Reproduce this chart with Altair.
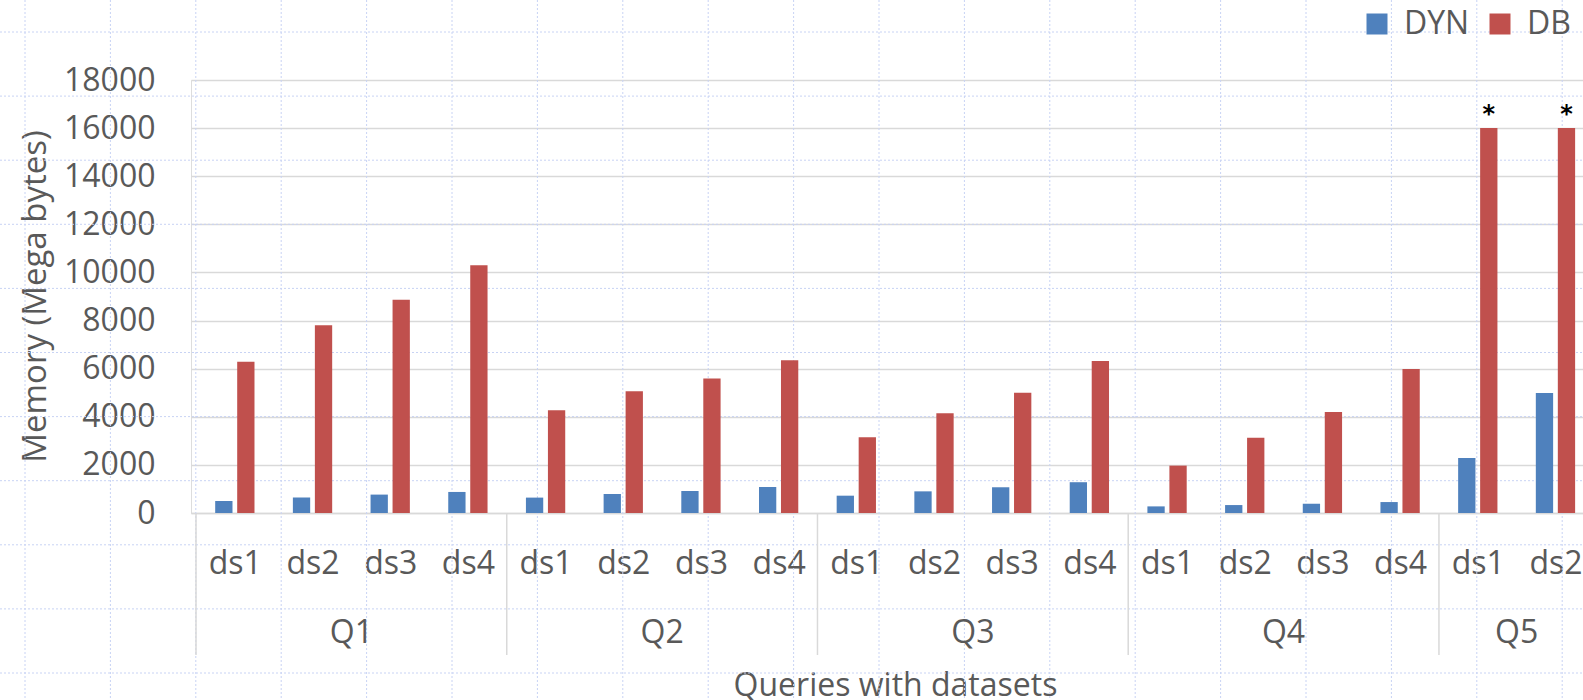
import altair as alt
import pandas as pd

# ---- data ----
queries = ["Q1"] * 4 + ["Q2"] * 4 + ["Q3"] * 4 + ["Q4"] * 4 + ["Q5"] * 2
datasets = ["ds1", "ds2", "ds3", "ds4"] * 4 + ["ds1", "ds2"]
dyn_mb = [500, 640, 765, 875, 640, 790, 915, 1080, 720, 900, 1070, 1280,
          275, 330, 385, 455, 2290, 4990]
db_mb = [6290, 7800, 8870, 10300, 4270, 5060, 5590, 6350, 3150, 4150, 5000, 6320,
         1970, 3130, 4200, 5990, 16000, 16000]
db_capped = [False] * 16 + [True, True]
series = ["DYN", "DB"]
colors = ["#4F81BD", "#C0504D"]
y_ticks = list(range(0, 18001, 2000))

# ---- tables ----
rows = []
for i, (q, d) in enumerate(zip(queries, datasets)):
    rows.append({"idx": i, "query": q, "ds": d, "series": "DYN", "value": dyn_mb[i], "capped": False})
    rows.append({"idx": i, "query": q, "ds": d, "series": "DB", "value": db_mb[i], "capped": db_capped[i]})
df = pd.DataFrame(rows)

cat = pd.DataFrame({"idx": range(len(queries)), "query": queries})
groups = cat.groupby("query", sort=False)["idx"].agg(["min", "max"]).reset_index()
groups["center"] = (groups["min"] + groups["max"]) / 2
groups["start"] = groups["min"] - 0.5

TXT = "#595959"
FONT = "Open Sans"
GRID = "#D9D9D9"
SHEET = "#C8D3F4"

W, H = 1392, 433
PAD_L, PAD_T, PAD_B = 191, 80, 187

# spreadsheet cell grid behind the chart (pixel spacing, style only)
sheet_v = pd.DataFrame({"px": [-166 + 85.4 * k for k in range(19)]})
sheet_h = pd.DataFrame({"py": [-48 + 64.1 * k for k in range(11)]})

xscale = alt.Scale(domain=[-0.5, 17.29], nice=False, zero=False)
ds_expr = "[" + ",".join("'%s'" % d for d in datasets) + "][datum.value]"
xaxis = alt.Axis(values=list(range(len(datasets))), labelExpr=ds_expr, grid=False, ticks=False,
                 domainColor=GRID, domainWidth=1.5, labelPadding=60, labelBaseline="alphabetic",
                 labelFontSize=32, labelFont=FONT, labelColor=TXT, labelFlush=False,
                 title="Queries with datasets", titleFontSize=32, titleFont=FONT,
                 titleFontWeight="normal", titleColor=TXT, titleBaseline="alphabetic",
                 titleY=182, titleX=704)
yaxis = alt.Axis(values=y_ticks, format="d", domain=False, ticks=False, gridColor=GRID, gridWidth=1.5,
                 labelPadding=36, labelFontSize=32, labelFont=FONT, labelColor=TXT,
                 title="Memory (Mega bytes)", titleFontSize=33, titleFont=FONT,
                 titleFontWeight="normal", titleColor=TXT, titleAngle=270,
                 titleBaseline="alphabetic", titleAlign="center", titleX=-146, titleY=216)
yscale = alt.Scale(domain=[0, 18000], nice=False)


def xenc(field):
    return alt.X(field + ":Q", scale=xscale, axis=xaxis)


color = alt.Color("series:N", scale=alt.Scale(domain=series, range=colors),
                  legend=alt.Legend(orient="none", legendX=1170, legendY=-72, direction="horizontal",
                                    title=None, symbolType="square", symbolSize=441,
                                    symbolStrokeWidth=0, labelFontSize=32, labelFont=FONT,
                                    labelColor=TXT, labelOffset=11, columnPadding=14))

sheet_vert = alt.Chart(sheet_v).mark_rule(color=SHEET, strokeWidth=1, strokeDash=[2, 2]).encode(
    x=alt.X("px:Q", scale=None, axis=None),
    y=alt.value(-PAD_T),
    y2=alt.value(H + PAD_B),
)
sheet_horz = alt.Chart(sheet_h).mark_rule(color=SHEET, strokeWidth=1, strokeDash=[2, 2]).encode(
    y=alt.Y("py:Q", scale=None, axis=None),
    x=alt.value(-PAD_L),
    x2=alt.value(W),
)

base = alt.Chart(df).encode(
    x=xenc("idx"),
    y=alt.Y("value:Q", scale=yscale, axis=yaxis),
    color=color,
)
bars_dyn = base.transform_filter(alt.datum.series == "DYN").mark_bar(
    xOffset=-11, width=17.3, orient="vertical")
bars_db = base.transform_filter(alt.datum.series == "DB").mark_bar(
    xOffset=11, width=17.3, orient="vertical")

stars = alt.Chart(df).transform_filter(
    (alt.datum.series == "DB") & alt.datum.capped
).mark_text(text="*", xOffset=11, dy=-1, baseline="bottom", fontSize=24,
            fontWeight="bold", color="#000000", font="DejaVu Sans").encode(
    x=xenc("idx"),
    y=alt.Y("value:Q", scale=yscale, axis=yaxis),
)

q_labels = alt.Chart(groups).mark_text(
    fontSize=32, font=FONT, color=TXT, baseline="alphabetic").encode(
    x=xenc("center"),
    y=alt.value(563),
    text="query:N",
)

separators = alt.Chart(groups).mark_rule(color=GRID, strokeWidth=1.5).encode(
    x=xenc("start"),
    y=alt.value(H),
    y2=alt.value(575),
)

chart = alt.layer(sheet_vert, sheet_horz, bars_dyn, bars_db, stars, q_labels, separators).properties(
    width=W, height=H,
    autosize=alt.AutoSizeParams(type="none"),
    padding={"left": PAD_L, "top": PAD_T, "right": 0, "bottom": PAD_B},
).configure_view(stroke=None).configure(background="#FFFFFF")

chart.save("out.html", embed_options={"renderer": "svg", "actions": False})
